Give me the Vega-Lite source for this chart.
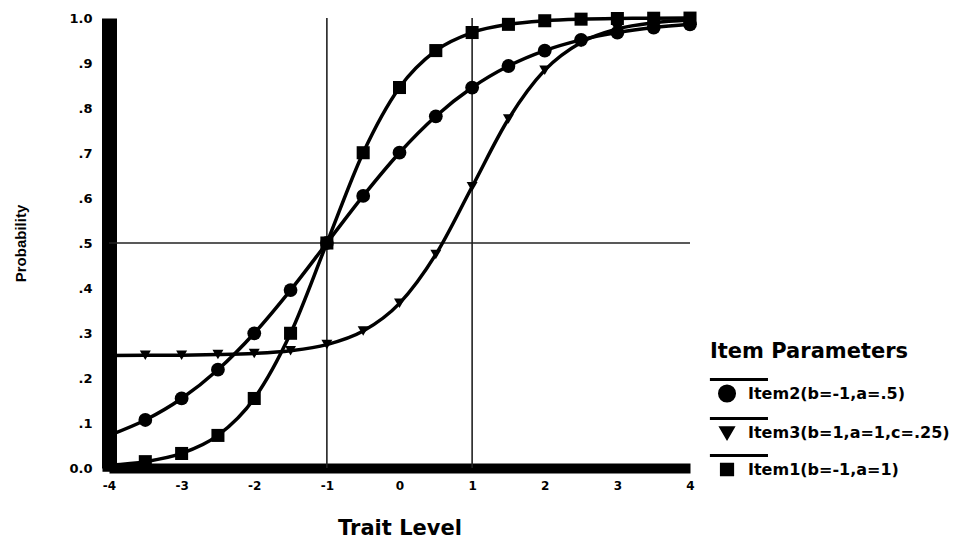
{
  "$schema": "https://vega.github.io/schema/vega-lite/v6.json",
  "autosize": "none",
  "width": 581,
  "height": 450,
  "padding": {"left": 109, "top": 18, "right": 290, "bottom": 70},
  "background": "white",
  "config": {
    "view": {"stroke": null},
    "font": "DejaVu Sans",
    "axis": {
      "labelFont": "DejaVu Sans",
      "labelFontWeight": "bold",
      "labelColor": "black",
      "titleFont": "DejaVu Sans",
      "titleFontWeight": "bold",
      "titleColor": "black",
      "domainColor": "black",
      "ticks": false,
      "grid": false,
      "labelFlush": false
    }
  },
  "datasets": {
    "curves": [
      {"item": "Item1(b=-1,a=1)", "x": -4, "p": 0.0061},
      {"item": "Item1(b=-1,a=1)", "x": -3.5, "p": 0.0141},
      {"item": "Item1(b=-1,a=1)", "x": -3, "p": 0.0323},
      {"item": "Item1(b=-1,a=1)", "x": -2.5, "p": 0.0724},
      {"item": "Item1(b=-1,a=1)", "x": -2, "p": 0.1545},
      {"item": "Item1(b=-1,a=1)", "x": -1.5, "p": 0.2994},
      {"item": "Item1(b=-1,a=1)", "x": -1, "p": 0.5},
      {"item": "Item1(b=-1,a=1)", "x": -0.5, "p": 0.7006},
      {"item": "Item1(b=-1,a=1)", "x": 0, "p": 0.8455},
      {"item": "Item1(b=-1,a=1)", "x": 0.5, "p": 0.9276},
      {"item": "Item1(b=-1,a=1)", "x": 1, "p": 0.9677},
      {"item": "Item1(b=-1,a=1)", "x": 1.5, "p": 0.9859},
      {"item": "Item1(b=-1,a=1)", "x": 2, "p": 0.9939},
      {"item": "Item1(b=-1,a=1)", "x": 2.5, "p": 0.9974},
      {"item": "Item1(b=-1,a=1)", "x": 3, "p": 0.9989},
      {"item": "Item1(b=-1,a=1)", "x": 3.5, "p": 0.9995},
      {"item": "Item1(b=-1,a=1)", "x": 4, "p": 0.9998},
      {"item": "Item2(b=-1,a=.5)", "x": -4, "p": 0.0724},
      {"item": "Item2(b=-1,a=.5)", "x": -3.5, "p": 0.1067},
      {"item": "Item2(b=-1,a=.5)", "x": -3, "p": 0.1545},
      {"item": "Item2(b=-1,a=.5)", "x": -2.5, "p": 0.2184},
      {"item": "Item2(b=-1,a=.5)", "x": -2, "p": 0.2994},
      {"item": "Item2(b=-1,a=.5)", "x": -1.5, "p": 0.3953},
      {"item": "Item2(b=-1,a=.5)", "x": -1, "p": 0.5},
      {"item": "Item2(b=-1,a=.5)", "x": -0.5, "p": 0.6047},
      {"item": "Item2(b=-1,a=.5)", "x": 0, "p": 0.7006},
      {"item": "Item2(b=-1,a=.5)", "x": 0.5, "p": 0.7816},
      {"item": "Item2(b=-1,a=.5)", "x": 1, "p": 0.8455},
      {"item": "Item2(b=-1,a=.5)", "x": 1.5, "p": 0.8933},
      {"item": "Item2(b=-1,a=.5)", "x": 2, "p": 0.9276},
      {"item": "Item2(b=-1,a=.5)", "x": 2.5, "p": 0.9514},
      {"item": "Item2(b=-1,a=.5)", "x": 3, "p": 0.9677},
      {"item": "Item2(b=-1,a=.5)", "x": 3.5, "p": 0.9787},
      {"item": "Item2(b=-1,a=.5)", "x": 4, "p": 0.9859},
      {"item": "Item3(b=1,a=1,c=.25)", "x": -4, "p": 0.2502},
      {"item": "Item3(b=1,a=1,c=.25)", "x": -3.5, "p": 0.2504},
      {"item": "Item3(b=1,a=1,c=.25)", "x": -3, "p": 0.2508},
      {"item": "Item3(b=1,a=1,c=.25)", "x": -2.5, "p": 0.252},
      {"item": "Item3(b=1,a=1,c=.25)", "x": -2, "p": 0.2546},
      {"item": "Item3(b=1,a=1,c=.25)", "x": -1.5, "p": 0.2606},
      {"item": "Item3(b=1,a=1,c=.25)", "x": -1, "p": 0.2742},
      {"item": "Item3(b=1,a=1,c=.25)", "x": -0.5, "p": 0.3043},
      {"item": "Item3(b=1,a=1,c=.25)", "x": 0, "p": 0.3659},
      {"item": "Item3(b=1,a=1,c=.25)", "x": 0.5, "p": 0.4746},
      {"item": "Item3(b=1,a=1,c=.25)", "x": 1, "p": 0.625},
      {"item": "Item3(b=1,a=1,c=.25)", "x": 1.5, "p": 0.7755},
      {"item": "Item3(b=1,a=1,c=.25)", "x": 2, "p": 0.8841},
      {"item": "Item3(b=1,a=1,c=.25)", "x": 2.5, "p": 0.9457},
      {"item": "Item3(b=1,a=1,c=.25)", "x": 3, "p": 0.9758},
      {"item": "Item3(b=1,a=1,c=.25)", "x": 3.5, "p": 0.9894},
      {"item": "Item3(b=1,a=1,c=.25)", "x": 4, "p": 0.9954}
    ],
    "vrefs": [{"x": -1}, {"x": 1}],
    "hrefs": [{"p": 0.5}]
  },
  "encoding": {
    "x": {
      "field": "x",
      "type": "quantitative",
      "scale": {"domain": [-4, 4], "nice": false},
      "axis": {
        "title": "Trait Level",
        "values": [-4, -3, -2, -1, 0, 1, 2, 3, 4],
        "labelExpr": "'' + datum.value",
        "labelFontSize": 12,
        "labelPadding": 12,
        "domainWidth": 10,
        "titleFontSize": 21,
        "titlePadding": 26
      }
    },
    "y": {
      "field": "p",
      "type": "quantitative",
      "scale": {"domain": [0, 1], "nice": false},
      "axis": {
        "title": "Probability",
        "values": [0, 0.1, 0.2, 0.3, 0.4, 0.5, 0.6, 0.7, 0.8, 0.9, 1],
        "labelExpr": "datum.value == 0 ? '0.0' : datum.value == 1 ? '1.0' : replace(format(datum.value, '.1f'), '0.', '.')",
        "labelFontSize": 13,
        "labelPadding": 17,
        "domainWidth": 15,
        "titleFont": "Liberation Sans",
        "titleFontSize": 15,
        "titlePadding": 40
      }
    }
  },
  "layer": [
    {
      "data": {"name": "vrefs"},
      "mark": {"type": "rule", "color": "#222", "strokeWidth": 1.6},
      "encoding": {"y": null}
    },
    {
      "data": {"name": "hrefs"},
      "mark": {"type": "rule", "color": "#222", "strokeWidth": 1.6},
      "encoding": {"x": null}
    },
    {
      "data": {"name": "curves"},
      "mark": {"type": "line", "color": "black", "strokeWidth": 3.5, "interpolate": "monotone"},
      "encoding": {
        "detail": {"field": "item", "type": "nominal"}
      }
    },
    {
      "data": {"name": "curves"},
      "transform": [{"filter": "datum.item === 'Item2(b=-1,a=.5)'"}],
      "mark": {"type": "point", "shape": "circle", "filled": true, "opacity": 1, "size": 190},
      "encoding": {
        "color": {
          "field": "item",
          "type": "nominal",
          "scale": {
            "domain": ["Item2(b=-1,a=.5)", "Item3(b=1,a=1,c=.25)", "Item1(b=-1,a=1)"],
            "range": ["black", "black", "black"]
          },
          "legend": {
            "title": "Item Parameters",
            "orient": "none",
            "legendX": 601,
            "legendY": 323,
            "padding": 0,
            "titleFont": "DejaVu Sans",
            "titleFontWeight": "bold",
            "titleFontSize": 21,
            "titleColor": "black",
            "titlePadding": 22,
            "titleLimit": 400,
            "labelFont": "DejaVu Sans",
            "labelFontWeight": "bold",
            "labelFontSize": 16,
            "labelColor": "black",
            "labelOffset": 19,
            "labelLimit": 400,
            "rowPadding": 4,
            "symbolSize": 256,
            "symbolStrokeWidth": 3,
            "symbolStrokeColor": "black",
            "symbolOpacity": 1,
            "encode": {
              "symbols": {
                "update": {
                  "shape": {"signal": "datum.value === 'Item2(b=-1,a=.5)' ? 'M-1.2,-1.75H6.06M1.88,0A0.94,0.94,0,1,1,0,0A0.94,0.94,0,1,1,1.88,0Z' : datum.value === 'Item3(b=1,a=1,c=.25)' ? 'M-1.2,-1.75H6.06M0.19,-0.6L1.69,-0.6L0.94,0.7Z' : 'M-1.2,-1.75H6.06M0.24,-0.65H1.64V0.65H0.24Z'"},
                  "stroke": {"value": "black"},
                  "strokeWidth": {"value": 3}
                }
              }
            }
          }
        }
      }
    },
    {
      "data": {"name": "curves"},
      "transform": [{"filter": "datum.item === 'Item3(b=1,a=1,c=.25)'"}],
      "mark": {"type": "point", "shape": "triangle-down", "filled": true, "opacity": 1, "size": 120},
      "encoding": {
        "color": {"field": "item", "type": "nominal"}
      }
    },
    {
      "data": {"name": "curves"},
      "transform": [{"filter": "datum.item === 'Item1(b=-1,a=1)'"}],
      "mark": {"type": "point", "shape": "square", "filled": true, "opacity": 1, "size": 170},
      "encoding": {
        "color": {"field": "item", "type": "nominal"}
      }
    }
  ]
}
